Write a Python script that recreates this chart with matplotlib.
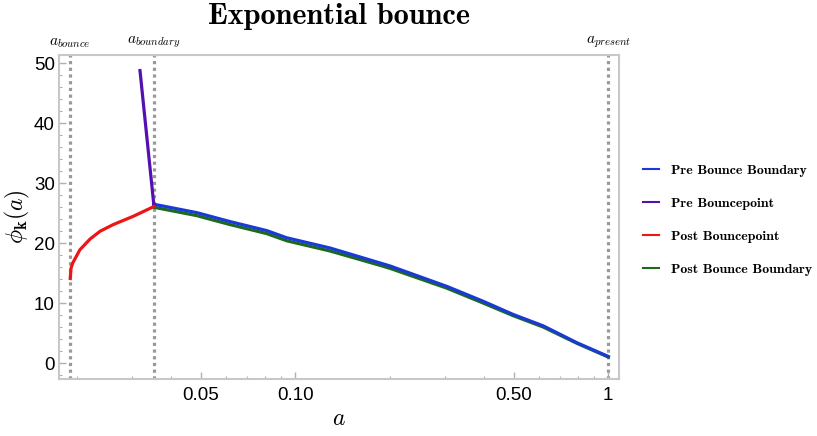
import matplotlib
matplotlib.use("Agg")
import matplotlib.pyplot as plt
import matplotlib.transforms as mtransforms
from matplotlib.ticker import FixedLocator, FixedFormatter, MultipleLocator

plt.rcParams['mathtext.fontset'] = 'cm'
plt.rcParams['font.family'] = ['Liberation Sans', 'DejaVu Sans']

# ---- data ----
a_bounce = 0.0191
a_boundary = 0.0353
a_present = 1.0

a_pre_point = [0.0319, 0.0353]
phi_pre_point = [48.8, 26.5]

a_post_point = [0.0191, 0.0192, 0.01945, 0.0205, 0.0221, 0.0238, 0.0262, 0.0304, 0.0353]
phi_post_point = [14.1, 15.8, 16.7, 18.9, 20.7, 22.0, 23.1, 24.5, 26.1]

a_bound = [0.0353, 0.0484, 0.0619, 0.0810, 0.0939, 0.129, 0.1865, 0.2007,
           0.3046, 0.3987, 0.497, 0.620, 0.793, 1.0]
phi_pre_bound = [26.5, 25.1, 23.6, 22.1, 20.9, 19.2, 16.7, 16.2,
                 12.8, 10.3, 8.1, 6.2, 3.4, 1.1]
phi_post_bound = [26.0, 24.6, 23.1, 21.6, 20.4, 18.7, 16.3, 15.8,
                  12.5, 10.0, 7.9, 6.0, 3.3, 1.0]

x_major = [0.05, 0.1, 0.5, 1.0]
x_major_labels = ["0.05", "0.10", "0.50", "1"]
x_minor = [0.02, 0.03, 0.04, 0.06, 0.07, 0.08, 0.09,
           0.2, 0.3, 0.4, 0.6, 0.7, 0.8, 0.9]

series_labels = ["Pre Bounce Boundary", "Pre Bouncepoint",
                 "Post Bouncepoint", "Post Bounce Boundary"]
series_colors = ["#1a3ad6", "#5410b0", "#ee1515", "#1c6a1c"]

fig = plt.figure(figsize=(8.17, 4.36), dpi=100)
ax = fig.add_axes([59/817, 1 - 378.5/436, (619-59)/817, (378.5-55)/436])
ax.set_xscale('log')
ax.set_xlim(0.01758, 1.082)
ax.set_ylim(-2.58, 51.4)

lw = 2.3
# vertical dotted reference lines
for xv in [a_bounce, a_boundary, a_present]:
    ax.axvline(xv, color='#999999', lw=2.3, ls=(0, (1, 1.1)), zorder=1)

l_post_b, = ax.plot(a_bound, phi_post_bound, color=series_colors[3], lw=lw, zorder=2)
l_pre_b, = ax.plot(a_bound, phi_pre_bound, color=series_colors[0], lw=lw, zorder=3)
l_pre_p, = ax.plot(a_pre_point, phi_pre_point, color=series_colors[1], lw=lw, zorder=3)
l_post_p, = ax.plot(a_post_point, phi_post_point, color=series_colors[2], lw=lw, zorder=3)

# labels above the vertical lines
trans = mtransforms.blended_transform_factory(ax.transData, ax.transAxes)
for xv, lab in [(a_bounce, r'$a_{bounce}$'), (a_boundary, r'$a_{boundary}$'),
                (a_present, r'$a_{present}$')]:
    ax.text(xv, 1.015, lab, transform=trans, ha='center', va='bottom', fontsize=11)

# ticks
ax.xaxis.set_major_locator(FixedLocator(x_major))
ax.xaxis.set_major_formatter(FixedFormatter(x_major_labels))
ax.xaxis.set_minor_locator(FixedLocator(x_minor))
ax.xaxis.set_minor_formatter(FixedFormatter([""] * len(x_minor)))
ax.yaxis.set_major_locator(MultipleLocator(10))
ax.yaxis.set_minor_locator(MultipleLocator(2))

ax.tick_params(which='both', direction='in', color='#b0b0b0', labelsize=13.5,
               top=False, right=False)
ax.tick_params(which='major', length=5, width=1)
ax.tick_params(which='minor', length=2.5, width=0.8)
ax.tick_params(axis='x', pad=6)
ax.tick_params(axis='y', pad=3)

for sp in ax.spines.values():
    sp.set_color('#c8c8c8')
    sp.set_linewidth(1.5)

ax.set_xlabel(r'$a$', fontsize=17, labelpad=3)
ax.set_ylabel(r'$\phi_{\mathbf{k}}(a)$', fontsize=17, labelpad=1)
fig.text(339/817, 1 - 23.5/436, 'Exponential bounce', fontfamily='cmb10',
         fontsize=21.8, ha='center', va='baseline')

handles = [l_pre_b, l_pre_p, l_post_p, l_post_b]
leg = fig.legend(handles, series_labels, loc='upper left',
                 bbox_to_anchor=(630.5/817, 1 - 152/436), frameon=False,
                 prop={'family': 'cmb10', 'size': 10}, handlelength=1.15,
                 handletextpad=0.86, labelspacing=1.45)
for h in leg.get_lines():
    h.set_linewidth(1.5)

fig.savefig('out.png', dpi=100)
